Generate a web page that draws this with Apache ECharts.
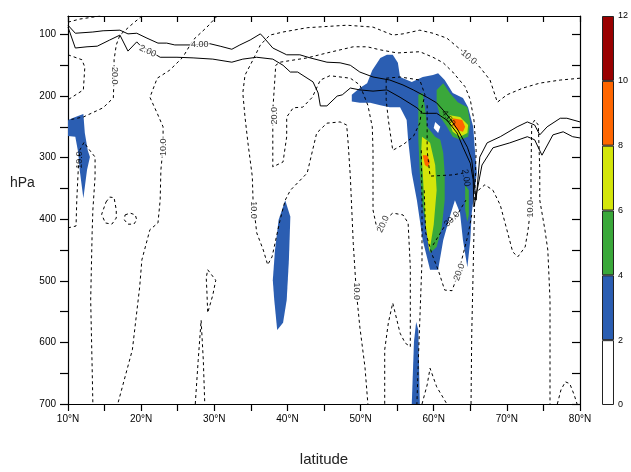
<!DOCTYPE html>
<html><head><meta charset="utf-8">
<script src="https://cdn.jsdelivr.net/npm/echarts@6/dist/echarts.min.js"></script>
<style>html,body{margin:0;padding:0;background:#fff}#c{width:631px;height:472px}</style>
</head><body><div id="c"></div>
<script>
// ---------- axis ticks ----------
const latTicks = [10,15,20,25,30,35,40,45,50,55,60,65,70,75,80];
const pressureLabels = [100,200,300,400,500,600,700];
const pressureTicks = [100,150,200,250,300,350,400,450,500,550,600,650,700];
const colorLevels = [0,2,4,6,8,10,12];

// ---------- solid contours (PV, lat / hPa) ----------
const pv4 = [[10.0,85],[11.0,98],[13.4,96],[14.8,94],[17.1,93],[18.2,99],[19.4,98],[20.8,106],[22.3,114],[23.5,114],[24.6,117],[26.7,117],[29.4,115],[30.8,119],[32.4,124],[33.5,117],[34.9,109],[36.3,99],[36.7,104],[38.0,122],[39.9,133],[41.7,133],[43.1,138],[45.4,145],[47.2,146],[48.6,150],[49.9,161],[51.7,169],[54.0,174],[55.8,182],[57.2,190],[59.1,202],[60.4,211],[61.3,223],[62.2,236],[63.3,255],[64.6,283],[65.2,304],[65.4,325],[65.6,348],[65.8,369],[66.3,299],[67.3,276],[69.1,266],[71.4,250],[72.8,242],[73.8,247],[74.5,263],[75.5,250],[77.3,236],[78.2,236],[80.0,242]];
const pv2 = [[10.0,88],[11.0,122],[12.6,120],[14.0,119],[15.7,109],[17.1,101],[18.2,127],[19.4,112],[19.8,117],[22.6,137],[24.9,137],[27.1,138],[29.8,140],[32.4,145],[33.9,140],[35.8,137],[38.0,140],[39.4,150],[40.4,161],[41.4,161],[43.5,177],[44.2,195],[44.5,216],[45.4,216],[46.8,200],[47.5,198],[48.6,187],[49.9,190],[51.7,192],[53.6,190],[55.4,202],[57.7,219],[58.5,228],[60.4,228],[61.8,239],[63.2,260],[64.0,283],[65.0,309],[65.4,336],[65.5,380],[66.6,312],[68.1,284],[70.4,276],[72.8,266],[73.8,271],[74.8,296],[76.3,263],[77.7,258],[79.0,266],[80.0,268]];

// ---------- dashed contours (wind speed) ----------
const wsTopLeft = [[10.0,80],[11.6,75],[13.3,72],[14.4,70]];
const ws20West = [[20.1,70],[18.5,86],[17.1,101],[16.6,117],[16.3,141],[16.3,167],[16.2,203],[14.8,219],[12.1,234],[10.0,239]];
const ws10West = [[30.4,70],[29.0,88],[27.1,109],[25.7,137],[23.9,158],[22.2,171],[21.2,202],[22.2,228],[23.0,250],[23.0,283],[22.7,320],[22.6,369],[22.3,406],[21.2,417],[20.1,466],[19.8,510],[18.8,612],[16.8,700]];
const wsEdgeLoop = [[10.0,133],[11.9,141],[12.3,153],[12.1,190],[10.0,206]];
const ws10Tongue = [[10.0,414],[11.1,411],[11.2,369],[11.4,320],[11.6,288],[12.2,275],[12.7,284],[13.7,299],[13.7,331],[13.4,385],[13.3,422],[13.1,531],[13.3,640],[13.4,700]];
const wsLoopA = [[15.2,372],[15.7,364],[16.3,365],[16.6,385],[16.6,398],[16.0,408],[15.1,406],[14.6,392],[15.2,372]];
const wsLoopB = [[17.8,393],[18.5,390],[19.2,393],[19.4,401],[19.0,408],[18.2,408],[17.7,401],[17.8,393]];
const wsLoopC = [[29.1,482],[30.2,499],[29.8,523],[29.1,552],[29.0,520],[28.9,495],[29.1,482]];
const wsSpike = [[27.4,700],[27.8,629],[28.2,564],[28.5,629],[28.7,700]];
const ws10Mid = [[80.0,171],[77.3,174],[74.5,179],[72.2,187],[70.0,198],[68.7,210],[67.7,174],[66.3,153],[65.0,137],[63.2,120],[61.8,106],[59.9,98],[58.1,93],[55.8,99],[54.4,101],[51.7,88],[48.1,85],[42.7,89],[39.4,96],[37.6,101],[36.3,117],[35.3,141],[34.2,166],[33.9,195],[34.2,234],[34.6,276],[35.2,331],[35.3,369],[35.8,422],[36.7,450],[37.3,474],[37.9,461],[39.0,401],[39.7,369],[40.4,353],[42.7,325],[44.0,260],[45.4,244],[47.2,242],[48.1,247],[48.3,276],[48.6,331],[48.8,385],[49.0,439],[49.4,515],[49.9,575],[50.6,640],[51.0,700]];
const ws20Mid = [[65.1,700],[65.2,585],[65.4,478],[65.6,369],[65.8,288],[65.5,239],[65.0,206],[64.3,185],[62.6,161],[61.3,146],[59.9,137],[58.1,128],[55.0,130],[52.7,125],[50.9,120],[49.0,120],[47.2,125],[45.4,130],[42.7,138],[39.0,145],[38.4,150],[38.3,169],[38.0,223],[38.0,315],[39.4,307],[39.9,266],[39.9,234],[40.8,219],[42.1,218],[43.4,202],[44.5,174],[45.8,167],[48.6,171],[49.9,182],[51.0,215],[51.6,250],[51.7,288],[51.7,385],[52.2,413],[54.4,390],[55.8,393],[56.5,406],[56.8,478],[56.8,607],[56.1,601],[55.4,585],[54.4,536],[53.8,568],[53.3,612],[53.3,700]];
const ws10East = [[66.1,353],[67.0,344],[68.1,353],[69.1,377],[70.0,417],[70.8,453],[71.5,461],[72.5,445],[72.9,417],[73.3,377],[73.3,320],[73.4,247],[73.8,239],[74.3,247],[74.5,320],[74.5,369],[75.2,417],[75.6,450],[75.9,531],[75.9,700]];
const ws20Jet = [[58.7,353],[58.8,390],[58.9,422],[59.8,458],[60.6,482],[61.5,515],[62.5,516],[63.3,490],[64.0,458],[64.7,425],[65.2,393]];
const wsJetStem = [[58.3,288],[58.4,369],[58.4,466],[58.1,564],[57.9,629],[57.7,700]];
const wsJetLoop = [[53.5,171],[55.4,169],[58.1,174],[58.8,198],[58.4,218],[58.1,244],[57.2,266],[55.8,279],[54.4,288],[53.8,239],[53.5,206],[53.5,171]];
const ws30a = [[59.1,215],[59.1,288],[59.5,330],[62.6,328],[64.0,325]];
const ws30b = [[59.9,442],[61.5,411],[63.3,391],[64.4,369]];
const wsBumpEast = [[76.9,700],[77.4,677],[78.0,664],[78.6,667],[79.2,685],[79.6,700]];
const wsBumpMid = [[58.4,700],[59.1,669],[59.5,642],[60.4,672],[61.8,700]];

// ---------- filled regions (shaded quantity) ----------
const fill2West = [[10.0,239],[11.0,234],[12.1,229],[12.3,260],[12.7,288],[13.0,299],[12.6,320],[12.1,366],[11.6,320],[11.4,292],[11.0,266],[10.0,265]];
const fill2Strip = [[39.7,369],[40.4,396],[40.2,466],[39.9,531],[39.4,568],[38.6,580],[38.2,531],[38.0,499],[38.3,450],[38.8,401]];
const fill2Main = [[48.8,198],[49.9,187],[50.9,179],[51.6,158],[52.7,138],[53.6,133],[54.4,133],[55.1,146],[55.4,169],[57.0,177],[58.5,169],[59.9,166],[60.6,163],[61.5,174],[62.6,195],[64.0,203],[64.7,218],[65.4,250],[65.6,283],[65.9,325],[65.6,353],[65.2,390],[65.0,434],[64.6,478],[64.0,434],[63.6,390],[62.9,369],[62.2,396],[61.3,434],[60.6,482],[59.5,482],[58.5,434],[57.7,369],[57.0,325],[56.5,271],[56.3,239],[55.4,218],[54.0,218],[52.7,215],[51.3,211],[49.9,211],[48.8,209]];
const fill2Low = [[57.6,567],[57.9,580],[58.1,700],[57.0,700],[57.3,599]];
const fill4West = [[57.9,198],[58.5,195],[58.8,218],[59.1,250],[60.2,266],[60.9,271],[61.3,292],[61.5,325],[61.5,369],[61.1,413],[60.4,445],[59.5,455],[59.1,422],[58.5,380],[58.1,325],[57.9,271],[57.9,218]];
const fill4East = [[60.4,190],[61.3,179],[62.2,195],[63.3,210],[64.6,218],[65.0,244],[64.7,266],[63.6,271],[62.6,266],[61.8,250],[60.9,234],[60.4,211]];
const fill4Thin = [[64.3,344],[64.8,353],[64.8,393],[64.6,404],[64.3,385]];
const fill6West = [[58.4,266],[59.5,276],[60.2,312],[60.4,353],[60.0,409],[59.4,453],[58.9,409],[58.7,369],[58.5,325],[58.3,288]];
const fill6East = [[62.2,231],[63.6,234],[64.7,247],[64.6,260],[63.6,266],[62.6,258],[62.2,244]];
const fill8West = [[58.5,296],[59.1,296],[59.5,307],[59.2,315],[58.8,312]];
const fill8East = [[62.6,236],[63.9,239],[64.3,250],[64.0,258],[63.2,255],[62.6,247]];
const fillHole = [[60.2,242],[60.9,250],[60.6,260],[60.0,252]];

// ---------- contour labels ----------
const labelPos = [[28.0,117],[20.9,127],[16.3,167],[23.0,283],[11.6,304],[38.2,232],[35.3,385],[49.4,517],[53.1,408],[63.5,486],[62.5,400],[64.8,137],[73.3,383],[62.0,236],[64.4,333]];
const labelText = ['4.00','2.00','20.0','10.0','10.0','20.0','10.0','10.0','20.0','20.0','30.0','10.0','10.0','4.00','2.00'];

// ---------- styles ----------
const labelAngle = [0,-25,-90,90,90,90,-90,-90,65,70,45,-40,90,-55,-80];
const labelOnFill = [4,10,13,14];
const shadeColors = ['#ffffff','#2b5eb2','#3aa83a','#d4e60a','#ff6600','#990000'];
const FONT = 'Liberation Sans, Arial, sans-serif';

function polySeries(pts, color, z) {
  return {
    type: 'custom', coordinateSystem: 'cartesian2d', xAxisIndex: 0, yAxisIndex: 0,
    data: pts, silent: true, z: z, animation: false,
    renderItem: function (params, api) {
      if (params.dataIndex !== 0) return null;
      return { type: 'polygon', shape: { points: pts.map(p => api.coord(p)) }, style: { fill: color } };
    }
  };
}
function lineSeries(pts, dashed) {
  return {
    type: 'line', xAxisIndex: 0, yAxisIndex: 0, data: pts, symbol: 'none', silent: true,
    z: 5, animation: false,
    lineStyle: { color: '#000', width: 1, type: dashed ? [3, 3] : 'solid' }
  };
}

const series = [
  polySeries(fill2West, shadeColors[1], 1),
  polySeries(fill2Strip, shadeColors[1], 1),
  polySeries(fill2Main, shadeColors[1], 1),
  polySeries(fill2Low, shadeColors[1], 1),
  polySeries(fill4West, shadeColors[2], 2),
  polySeries(fill4East, shadeColors[2], 2),
  polySeries(fill4Thin, shadeColors[2], 2),
  polySeries(fill6West, shadeColors[3], 3),
  polySeries(fill6East, shadeColors[3], 3),
  polySeries(fill8West, shadeColors[4], 4),
  polySeries(fill8East, shadeColors[4], 4),
  polySeries(fillHole, '#ffffff', 4)
];
[wsTopLeft, ws20West, ws10West, wsEdgeLoop, ws10Tongue, wsLoopA, wsLoopB, wsLoopC, wsSpike,
 ws10Mid, ws20Mid, ws10East, ws20Jet, wsJetStem, wsJetLoop, ws30a, ws30b, wsBumpEast, wsBumpMid]
  .forEach(d => series.push(lineSeries(d, true)));
series.push(lineSeries(pv4, false));
series.push(lineSeries(pv2, false));
series.push({
  type: 'scatter', xAxisIndex: 0, yAxisIndex: 0, symbolSize: 0, silent: true, z: 8, animation: false,
  itemStyle: { color: 'transparent' },
  data: labelPos.map((p, i) => ({
    value: p,
    label: {
      rotate: labelAngle[i],
      backgroundColor: labelOnFill.indexOf(i) >= 0 ? 'transparent' : '#fff',
      padding: [0, 1]
    }
  })),
  label: {
    show: true, position: 'inside', color: '#000', fontSize: 9, fontFamily: FONT,
    formatter: p => labelText[p.dataIndex]
  }
});
// colour bar
for (let i = 0; i < shadeColors.length; i++) {
  series.push({
    type: 'bar', xAxisIndex: 2, yAxisIndex: 2, stack: 'cb', barWidth: '100%',
    data: [colorLevels[i + 1] - colorLevels[i]], silent: true, animation: false,
    itemStyle: { color: shadeColors[i], borderColor: '#222', borderWidth: 1 }
  });
}

const axisLine = { show: true, lineStyle: { color: '#000', width: 1.2 } };
const chart = echarts.init(document.getElementById('c'), null, { renderer: 'canvas' });
chart.setOption({
  animation: false,
  backgroundColor: '#fff',
  grid: [
    { left: 68, right: 51, top: 16, bottom: 68 },
    { left: 602, width: 16, top: 16, height: 389 }
  ],
  xAxis: [
    {
      gridIndex: 0, type: 'value', min: 10, max: 80, interval: 5, position: 'bottom',
      axisLine: axisLine, splitLine: { show: false },
      axisTick: { show: true, inside: false, length: 7, lineStyle: { color: '#000', width: 1.2 } },
      axisLabel: {
        color: '#000', fontSize: 10, fontFamily: FONT, margin: 10,
        formatter: v => (v % 10 === 0 ? v + '°N' : '')
      },
      name: 'latitude', nameLocation: 'middle', nameGap: 48,
      nameTextStyle: { color: '#222', fontSize: 15, fontFamily: FONT }
    },
    {
      gridIndex: 0, type: 'value', min: 10, max: 80, interval: 5, position: 'top',
      axisLine: axisLine, splitLine: { show: false }, axisLabel: { show: false },
      axisTick: { show: true, inside: true, length: 6, lineStyle: { color: '#000', width: 1.2 } }
    },
    { gridIndex: 1, type: 'category', data: [''], show: false }
  ],
  yAxis: [
    {
      gridIndex: 0, type: 'value', min: 70, max: 700, inverse: true, position: 'left',
      axisLine: axisLine, splitLine: { show: false },
      axisTick: { show: true, inside: false, length: 8, customValues: pressureTicks, lineStyle: { color: '#000', width: 1.2 } },
      axisLabel: { color: '#000', fontSize: 10, fontFamily: FONT, margin: 12, customValues: pressureLabels }
    },
    {
      gridIndex: 0, type: 'value', min: 70, max: 700, inverse: true, position: 'right',
      axisLine: axisLine, splitLine: { show: false }, axisLabel: { show: false },
      axisTick: { show: true, inside: true, length: 8, customValues: pressureTicks, lineStyle: { color: '#000', width: 1.2 } }
    },
    {
      gridIndex: 1, type: 'value', min: 0, max: 12, interval: 2, position: 'right',
      axisLine: { show: false }, axisTick: { show: false }, splitLine: { show: false },
      axisLabel: { color: '#000', fontSize: 9, fontFamily: FONT, margin: 4 }
    }
  ],
  graphic: [
    { type: 'text', left: 10, top: 176, style: { text: 'hPa', fontSize: 14, fontFamily: FONT, fill: '#222' } }
  ],
  series: series
});
</script>
</body></html>
